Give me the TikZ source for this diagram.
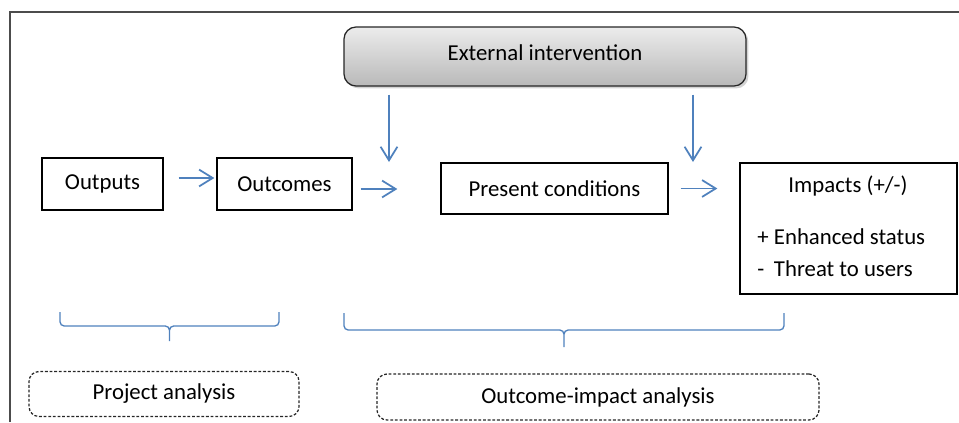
\documentclass[tikz,border=0pt]{standalone}
\usepackage{fontspec}
\setmainfont{Carlito}
\usepackage{tikz}
\usepackage{color}
\usetikzlibrary{calc,shapes,shadows,arrows.meta,backgrounds}
\definecolor{flowblue}{RGB}{79,129,189}
\newcommand{\tikzGroupBrace}[6]{
  \coordinate (#1) at ($(#2,#5)!0.5!(#3,#5)$);
  \path[draw,-,flowblue,line width=0.95pt,rounded corners=3pt] (#2,#4) |- (#1) -- ++(0,-#6) (#3,#4) |- (#1) -- ++(0,-#6);
}

\begin{document}
\begin{tikzpicture}[semithick, ->, >={Straight Barb[length=3.4mm,width=4.2mm]},
    font=\fontsize{16.2}{19}\selectfont,
    box/.style={draw,line width=0.9pt,rectangle,inner sep=0pt},
    extbox/.style={draw=black!85,line width=0.9pt,rectangle,rounded corners=0.3cm,
      top color=gray!15,bottom color=gray!55,text depth=0.2cm,
      drop shadow={opacity=0.35,shadow xshift=0.6mm,shadow yshift=-0.6mm}},
    groupbox/.style={draw=black!85,line width=0.9pt,dash pattern=on 2pt off 1.3pt,rectangle,rounded corners=0.25cm},
    flow/.style={draw,flowblue,line width=1.25pt}]
  \useasboundingbox (0,0) rectangle (23.975,10.55);
  \path[draw,-,line width=0.9pt,black!70] (0.25,0) -- (0.25,10.25) -- (23.975,10.25);
  \node [extbox,minimum width=10.05cm,minimum height=1.475cm] (ext) at (13.625,9.1375) {External intervention};
  \node [box,minimum width=3.025cm,minimum height=1.3cm] (outputs) at (2.5625,5.95) {Outputs};
  \node [box,minimum width=3.375cm,minimum height=1.3cm] (outcomes) at (7.1125,5.95) {Outcomes};
  \node [box,minimum width=5.675cm,minimum height=1.275cm] (present) at (13.8625,5.8375) {Present conditions};
  \node [box,minimum width=5.425cm,minimum height=3.275cm] (impacts) at (21.2125,4.8375) {};
  \node (impactshead) at (21.2,5.9) {Impacts (+/-)};
  \node [anchor=west,inner sep=0pt,font=\fontsize{16.2}{22.8}\selectfont] (impactslist) at (18.925,4.2)
    {\begin{tabular}{@{}l@{\hspace{0.13cm}}l}+&Enhanced status\\-&Threat to users\end{tabular}};
  \path[flow,shorten <=0.375cm,shorten >=0.05cm] ([yshift=0.15cm]outputs.east) -- ([yshift=0.15cm]outputs.east -| outcomes.west);
  \path[flow,shorten <=0.2cm,shorten >=1.075cm] ([yshift=-0.125cm]outcomes.east) -- ([yshift=-0.125cm]outcomes.east -| present.west);
  \path[flow,shorten <=0.3cm,shorten >=0.55cm] (present.east) -- (present.east -| impacts.west);
  \coordinate (cond1) at (9.725,6.5);
  \path[flow,shorten <=0.2cm] (ext.south -| cond1) -- (cond1);
  \coordinate (cond2) at (17.325,6.5);
  \path[flow,shorten <=0.2cm] (ext.south -| cond2) -- (cond2);
  \tikzGroupBrace{projbrace}{1.5}{6.975}{2.75}{2.4}{0.375}
  \tikzGroupBrace{impbrace}{8.6}{19.6}{2.725}{2.3}{0.425}
  \node [groupbox,minimum width=6.75cm,minimum height=1.125cm] (projgroup) at (4.1,0.7) {Project analysis};
  \node [groupbox,minimum width=11.05cm,minimum height=1.15cm] (impgroup) at (14.95,0.625) {Outcome-impact analysis};
\end{tikzpicture}
\end{document}
